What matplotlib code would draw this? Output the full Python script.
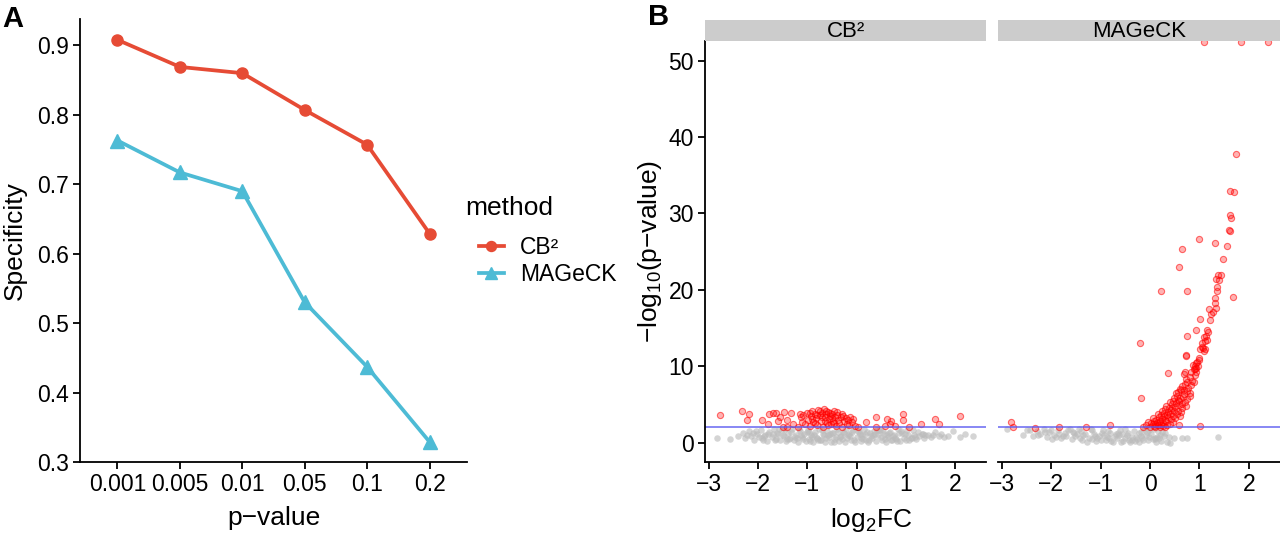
import matplotlib
matplotlib.use('Agg')
import matplotlib.pyplot as plt

plt.rcParams['font.family'] = ['Liberation Sans', 'DejaVu Sans']
plt.rcParams['mathtext.fontset'] = 'custom'
plt.rcParams['mathtext.rm'] = 'Liberation Sans'
plt.rcParams['mathtext.it'] = 'Liberation Sans:italic'

# ---- panel A data ----
pvals = ['0.001', '0.005', '0.01', '0.05', '0.1', '0.2']
cb2_spec = [0.908, 0.869, 0.860, 0.807, 0.757, 0.629]
mageck_spec = [0.763, 0.717, 0.690, 0.530, 0.437, 0.329]

# ---- panel B data (log2FC, -log10 p) ----
# CB2, below threshold
cb2_ns_x = [-2.83, -2.58, -2.41, -2.30, -2.26, -2.19, -2.14, -2.08, -2.03, -1.98,
            -1.94, -1.90, -1.86, -1.81, -1.77, -1.72, -1.68, -1.64, -1.60, -1.55,
            -1.51, -1.47, -1.43, -1.39, -1.35, -1.31, -1.27, -1.23, -1.19, -1.15,
            -1.11, -1.07, -1.03, -0.99, -0.96, -0.92, -0.88, -0.84, -0.80, -0.76,
            -0.72, -0.68, -0.64, -0.60, -0.56, -0.52, -0.48, -0.44, -0.40, -0.36,
            -0.32, -0.28, -0.24, -0.20, -0.16, -0.12, -0.08, -0.04, 0.00, 0.04,
            0.08, 0.12, 0.16, 0.20, 0.24, 0.28, 0.32, 0.36, 0.40, 0.44,
            0.48, 0.52, 0.56, 0.60, 0.64, 0.68, 0.72, 0.76, 0.80, 0.84,
            0.88, 0.92, 0.96, 1.00, 1.05, 1.10, 1.15, 1.20, 1.26, 1.32,
            1.38, 1.45, 1.52, 1.60, 1.68, 1.78, 1.86, 1.95, 2.10, 2.37,
            -2.22, -2.05, -1.92, -1.79, -1.66, -1.58, -1.49, -1.41, -1.33, -1.25,
            -1.17, -1.09, -1.01, -0.94, -0.86, -0.78, -0.70, -0.62, -0.54, -0.46,
            -0.38, -0.30, -0.22, -0.14, -0.06, 0.02, 0.10, 0.18, 0.26, 0.34,
            0.42, 0.50, 0.58, 0.66, 0.74, 0.82, 0.90, 0.98, 1.07, 1.17,
            -0.90, -0.66, -0.42, -0.18, 0.06, 0.30, 0.54, 0.78, 1.02, 1.24,
            -1.88, -1.62, -1.37, -1.13, -0.97, -0.81, -0.58, -0.34, -0.10, 0.14,
            0.38, 0.62, 0.86, 1.12, 1.35, 1.55, -1.70, -1.21, -0.74, -0.26,
            0.22, 0.70, 1.18, -1.45, -0.50, 0.46, 1.40, 1.72, 2.20, -2.10]
cb2_ns_y = [0.60, 0.45, 0.85, 1.25, 0.55, 1.55, 0.90, 0.35, 1.20, 0.70,
            1.70, 0.40, 1.05, 0.25, 1.45, 0.75, 1.85, 0.50, 1.15, 0.30,
            1.60, 0.85, 0.20, 1.30, 0.60, 1.75, 0.35, 1.00, 0.15, 1.50,
            0.70, 1.20, 0.25, 1.65, 0.50, 0.95, 0.10, 1.40, 0.65, 1.85,
            0.30, 1.10, 0.15, 1.55, 0.80, 0.05, 1.30, 0.45, 1.75, 0.20,
            0.90, 1.45, 0.10, 0.60, 1.20, 0.30, 1.65, 0.05, 0.75, 1.35,
            0.20, 1.00, 1.80, 0.40, 0.10, 1.25, 0.60, 1.55, 0.25, 0.95,
            1.70, 0.35, 1.15, 0.15, 0.70, 1.45, 0.30, 1.00, 0.50, 1.75,
            0.25, 1.30, 0.65, 0.40, 1.05, 0.55, 1.60, 0.45, 0.85, 1.20,
            0.60, 1.00, 0.75, 1.40, 0.90, 0.70, 0.88, 1.50, 0.80, 0.90,
            0.95, 1.50, 0.60, 1.15, 0.35, 1.75, 1.05, 0.50, 1.45, 0.80,
            1.85, 0.45, 1.35, 0.20, 1.05, 0.40, 1.60, 0.55, 1.20, 0.15,
            1.35, 0.50, 1.80, 0.85, 0.40, 1.55, 0.60, 1.20, 0.30, 1.00,
            1.65, 0.80, 0.50, 1.25, 0.90, 0.20, 1.55, 1.10, 0.30, 1.00,
            0.75, 0.95, 0.70, 1.00, 1.10, 0.85, 1.50, 0.65, 1.70, 1.45,
            0.85, 1.25, 0.45, 0.95, 1.35, 0.55, 1.00, 0.70, 1.40, 0.50,
            1.10, 0.95, 1.30, 0.60, 1.10, 0.95, 1.20, 0.55, 0.30, 1.25,
            1.45, 0.30, 0.75, 1.85, 1.25, 1.65, 1.00, 1.15, 1.15, 1.30]
# CB2, above threshold
cb2_sig_x = [-2.78, -2.33, -2.18, -2.22, -1.93, -1.80, -1.77, -1.70, -1.64, -1.55,
             -1.47, -1.34, -1.59, -1.42, -1.42, -1.50, -1.29, -1.15, -1.08, -1.19,
             -1.12, -1.05, -1.00, -0.98, -0.95, -0.92, -0.90, -0.88, -0.85, -0.82,
             -0.80, -0.78, -0.75, -0.72, -0.70, -0.68, -0.66, -0.64, -0.62, -0.60,
             -0.58, -0.56, -0.54, -0.52, -0.50, -0.48, -0.46, -0.44, -0.42, -0.40,
             -0.37, -0.35, -0.32, -0.30, -0.27, -0.25, -0.22, -0.20, -0.17, -0.14,
             -0.10, -0.07, -0.03, 0.03, 0.20, 0.39, 0.40, 0.62, 0.67, 0.58,
             0.70, 0.78, 0.95, 0.95, 1.07, 1.30, 1.59, 1.67, 2.10, -0.95,
             -0.85, -0.75, -0.65, -0.55, -0.45, -0.62, -0.50, -1.10, -0.90, -0.70,
             -0.30, -0.15, -0.40, -0.58, -0.80]
cb2_sig_y = [3.60, 4.10, 3.80, 3.00, 3.00, 2.50, 3.70, 3.90, 3.90, 3.40,
             4.00, 3.90, 2.80, 3.00, 2.00, 2.10, 2.50, 3.80, 3.60, 2.00,
             3.30, 2.40, 3.90, 3.00, 2.20, 3.50, 4.20, 2.70, 3.80, 3.20,
             2.30, 4.30, 3.60, 2.90, 3.90, 2.10, 4.40, 3.30, 3.70, 2.60,
             4.00, 3.10, 3.50, 2.40, 3.80, 2.90, 4.10, 3.30, 2.20, 3.60,
             3.00, 2.60, 3.40, 2.10, 3.50, 2.80, 3.20, 2.40, 3.00, 3.30,
             2.70, 3.10, 2.20, 2.10, 2.70, 3.30, 2.10, 3.10, 2.40, 2.20,
             2.90, 2.20, 3.70, 3.00, 2.00, 2.50, 3.10, 2.50, 3.45, 3.90,
             2.60, 4.10, 2.80, 3.90, 2.60, 4.20, 3.20, 2.70, 3.10, 3.40,
             3.80, 2.30, 4.00, 2.30, 3.60]

# MAGeCK, below threshold
mag_ns_x = [-2.90, -2.57, -2.44, -2.37, -2.30, -2.22, -2.15, -2.08, -2.01, -1.94,
            -1.87, -1.80, -1.73, -1.66, -1.59, -1.52, -1.45, -1.38, -1.31, -1.24,
            -1.17, -1.10, -1.03, -0.96, -0.89, -0.82, -0.75, -0.68, -0.61, -0.54,
            -0.47, -0.40, -0.33, -0.26, -0.19, -0.12, -0.05, 0.02, 0.09, 0.16,
            0.22, 0.28, 0.35, 0.41, 0.48, 0.39, 0.65, 0.75, 1.38, 0.30,
            -2.50, -2.26, -2.12, -1.98, -1.84, -1.70, -1.56, -1.42, -1.28, -1.14,
            -1.00, -0.86, -0.72, -0.58, -0.44, -0.30, -0.16, -0.02, 0.12, 0.20,
            -1.62, -1.48, -1.20, -0.93, -0.65, -0.37, -0.09, 0.05, -0.22, -0.50,
            -1.35, -1.07, -0.79, -0.51, -0.23, 0.07, 0.14, -0.14, -0.42, -0.70,
            -2.05, -1.77, -1.55, -1.18, -0.98, -0.83, -0.62, -0.36, -0.18, -0.03,
            0.10, 0.25, -1.90, -1.40, -0.88, -0.56, -0.28, -0.07, 0.18, -1.12]
mag_ns_y = [1.85, 1.00, 1.70, 0.90, 1.55, 1.20, 1.75, 0.75, 1.60, 1.05,
            1.70, 0.60, 1.30, 1.65, 0.45, 0.90, 1.75, 0.30, 1.20, 0.60,
            1.60, 0.20, 0.90, 1.70, 0.35, 1.25, 0.10, 0.65, 1.65, 0.25,
            1.05, 0.05, 1.55, 0.45, 0.90, 1.75, 0.30, 1.20, 0.60, 1.50,
            0.20, 0.90, 0.14, 0.00, 0.57, 0.70, 0.55, 0.60, 0.71, 1.30,
            1.60, 0.95, 1.40, 0.50, 1.15, 0.85, 1.45, 0.60, 0.15, 1.15,
            0.40, 1.55, 0.85, 0.05, 1.30, 0.20, 0.55, 1.65, 0.15, 1.05,
            1.75, 1.20, 1.75, 1.05, 1.30, 0.80, 1.00, 0.45, 1.25, 0.55,
            0.95, 0.65, 0.25, 1.75, 0.10, 1.75, 0.80, 0.35, 0.30, 1.15,
            1.35, 0.90, 1.25, 0.45, 1.25, 0.55, 0.95, 0.40, 1.40, 0.75,
            0.45, 1.45, 0.80, 1.50, 0.70, 1.10, 0.70, 1.35, 0.65, 0.90]
# MAGeCK, above threshold
mag_sig_x = [1.09, 1.84, 2.38, 1.74, 1.61, 1.70, 1.62, 1.64, 1.60, 1.61,
             1.56, 1.32, 0.98, 0.65, 1.48, 0.58, 0.23, 0.75, 1.68, 1.34,
             1.43, 1.40, 1.35, 1.35, 1.31, 1.31, 1.34, 1.27, 1.19, 1.23,
             1.22, 1.02, 0.92, 1.15, 1.17, 1.14, 1.10, 1.12, 1.16, 0.74,
             -0.20, 1.05, 1.06, 1.08, 1.12, 1.09, 1.02, 0.73, 1.00, 0.98,
             0.95, 0.92, 0.90, 0.93, 0.90, 0.97, 0.36, 0.69, -0.19, 1.02,
             0.58, -2.81, -2.78, -2.33, -1.85, -1.30, -0.82, 0.70, 0.72, 1.38,
             -0.15, -0.08, 0.00, 0.05, 0.10, 0.15, 0.20, 0.26, 0.31, 0.02,
             -0.05, 0.08, 0.14, 0.20, 0.26, 0.33, 0.40, 0.46, 0.12, 0.25,
             0.05, 0.18, 0.30, 0.36, 0.42, 0.50, 0.22, 0.15, 0.28, 0.34,
             0.40, 0.47, 0.55, 0.60, 0.24, 0.30, 0.37, 0.43, 0.49, 0.56,
             0.62, 0.32, 0.39, 0.45, 0.51, 0.58, 0.65, 0.72, 0.40, 0.47,
             0.53, 0.59, 0.65, 0.71, 0.48, 0.54, 0.61, 0.67, 0.74, 0.80,
             0.56, 0.62, 0.68, 0.74, 0.80, 0.64, 0.71, 0.77, 0.83, 0.88,
             0.73, 0.80, 0.85, 0.90, 0.83, 0.88, 0.92, 0.86, 0.60, 0.52,
             0.10, 0.22, 0.35, 0.18, 0.29, 0.44, 0.57, 0.69, 0.75, 0.08]
mag_sig_y = [52.5, 52.5, 52.5, 37.8, 32.9, 32.8, 29.8, 29.4, 27.9, 27.7,
             25.8, 26.1, 26.7, 25.3, 24.1, 23.0, 19.8, 19.9, 19.1, 21.4,
             21.9, 21.3, 20.4, 19.8, 19.0, 18.3, 17.6, 17.1, 17.5, 16.9,
             16.1, 16.15, 14.7, 14.8, 14.5, 14.0, 13.8, 13.3, 13.5, 14.0,
             13.0, 13.0, 12.5, 12.4, 12.3, 12.0, 12.2, 11.4, 11.1, 10.8,
             10.6, 10.4, 10.1, 9.8, 9.6, 10.0, 9.1, 9.0, 5.9, 2.2,
             2.3, 2.7, 2.0, 1.95, 2.0, 2.1, 2.25, 9.2, 11.5, 22.0,
             2.1, 2.3, 2.0, 2.4, 2.1, 2.3, 2.05, 2.2, 2.1, 2.6,
             2.7, 2.8, 2.55, 2.9, 2.6, 2.8, 2.5, 2.7, 3.0, 3.1,
             3.2, 3.4, 3.0, 3.3, 3.1, 3.2, 3.6, 3.8, 3.9, 3.6,
             3.8, 3.5, 3.7, 3.5, 4.2, 4.4, 4.0, 4.3, 4.1, 4.2,
             4.0, 4.8, 4.6, 5.0, 4.7, 4.9, 4.6, 4.8, 5.3, 5.5,
             5.2, 5.4, 5.1, 5.3, 5.9, 6.1, 5.8, 6.0, 5.7, 6.1,
             6.6, 6.9, 6.4, 6.7, 6.5, 7.4, 7.7, 7.2, 7.5, 7.9,
             8.3, 8.6, 8.1, 8.8, 9.3, 9.6, 9.2, 10.2, 7.0, 6.5,
             2.45, 2.35, 2.3, 2.75, 3.45, 4.6, 5.6, 6.9, 8.0, 2.15]

threshold = 2
facets = ['CB²', 'MAGeCK']

W, H = 1280, 534


def box(l, t, r, b):
    return [l / W, 1 - b / H, (r - l) / W, (b - t) / H]


def style_axis(ax, left=True):
    for s in ['top', 'right']:
        ax.spines[s].set_visible(False)
    ax.spines['bottom'].set_linewidth(1.3)
    ax.spines['left'].set_linewidth(1.3)
    ax.tick_params(length=5, width=1.3, labelsize=16.5, pad=3, colors='black')
    if not left:
        ax.spines['left'].set_visible(False)
        ax.tick_params(axis='y', left=False, labelleft=False)


fig = plt.figure(figsize=(12.8, 5.34), dpi=100)

# Panel A
axA = fig.add_axes(box(80, 19, 467, 462))
xs = list(range(1, len(pvals) + 1))
lA1, = axA.plot(xs, cb2_spec, color='#E64B35', lw=2.7, marker='o', ms=8, label='CB²')
lA2, = axA.plot(xs, mageck_spec, color='#4DBBD5', lw=2.7, marker='^', ms=9.5, label='MAGeCK')
axA.set_xlim(0.4, 6.6)
axA.set_ylim(0.3, 0.938)
axA.set_xticks(xs)
axA.set_xticklabels(pvals)
axA.set_yticks([0.3, 0.4, 0.5, 0.6, 0.7, 0.8, 0.9])
style_axis(axA)
axA.set_xlabel('p\u2212value', fontsize=19, labelpad=7)
axA.set_ylabel('Specificity', fontsize=19, labelpad=7)

fig.text(465 / W, 1 - 208 / H, 'method', fontsize=19, ha='left', va='center')
leg = fig.legend(handles=[lA1, lA2], loc='upper left',
                 bbox_to_anchor=(458 / W, 1 - 215 / H), frameon=False,
                 fontsize=16.5, handlelength=1.1, markerscale=0.9,
                 labelspacing=0.2, handletextpad=0.7)

# Panel B facets
data = [(cb2_ns_x, cb2_ns_y, cb2_sig_x, cb2_sig_y),
        (mag_ns_x, mag_ns_y, mag_sig_x, mag_sig_y)]
spans = [(705, 986), (998, 1280)]
for i, (name, (nx, ny, sx, sy), (l, r)) in enumerate(zip(facets, data, spans)):
    ax = fig.add_axes(box(l, 41, r, 461.7))
    ax.scatter(nx, ny, s=22, color='#BBBBBB', alpha=0.62, linewidths=0)
    ax.scatter(sx, sy, s=20, facecolors=(1, 0, 0, 0.3), edgecolors=(1, 0, 0, 0.55),
               linewidths=0.8)
    ax.axhline(threshold, color='#5A5AF0', lw=1.2, alpha=0.85)
    ax.set_xlim(-3.08, 2.63)
    ax.set_ylim(-2.49, 52.58)
    ax.set_xticks([-3, -2, -1, 0, 1, 2])
    ax.set_xticklabels(['\u22123', '\u22122', '\u22121', '0', '1', '2'])
    ax.set_yticks([0, 10, 20, 30, 40, 50])
    style_axis(ax, left=(i == 0))

    strip = fig.add_axes(box(l, 20, r, 41))
    strip.set_facecolor('#CCCCCC')
    strip.set_xticks([])
    strip.set_yticks([])
    for s in strip.spines.values():
        s.set_visible(False)
    strip.text(0.5, 0.45, name, ha='center', va='center', fontsize=16,
               transform=strip.transAxes)

fig.text(871 / W, 1 - 520 / H, 'log$_\\mathregular{2}$FC', ha='center', va='center', fontsize=19)
fig.text(650 / W, 1 - 251 / H, '\u2212log$_\\mathregular{10}$(p\u2212value)', ha='center',
         va='center', rotation=90, fontsize=19)

fig.text(2 / W, 1 - 19 / H, 'A', fontsize=21, fontweight='bold', va='center', ha='left')
fig.text(648 / W, 1 - 17 / H, 'B', fontsize=21, fontweight='bold', va='center', ha='left')

fig.savefig('out.png', dpi=100)
